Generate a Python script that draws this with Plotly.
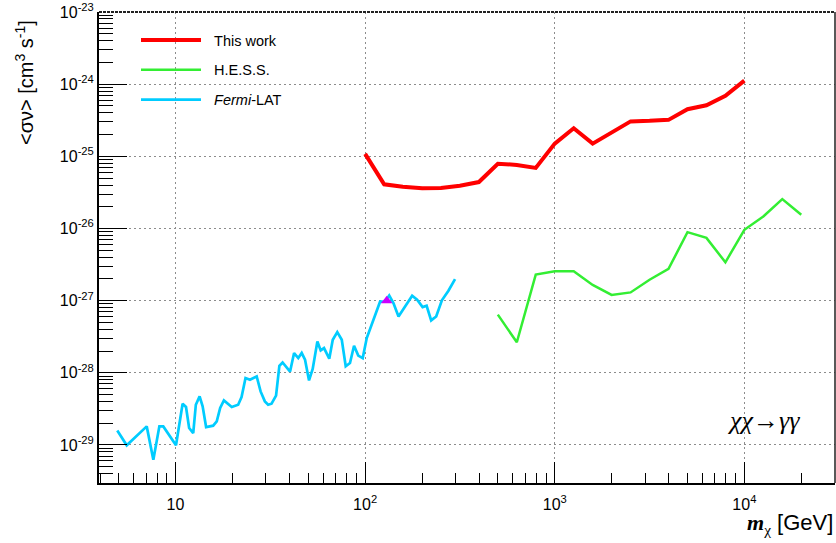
import plotly.graph_objects as go

# ---------------- data ----------------
fermi_mass = [4.93, 5.53, 7.05, 7.64, 8.22, 8.62, 10.06, 10.9, 11.36, 11.8,
              12.4, 12.8, 13.4, 13.9, 14.5, 15.8, 16.5, 17.2, 18.0, 19.8,
              21.4, 22.3, 23.4, 24.7, 26.8, 28.1, 29.6, 30.8, 32.1, 33.9,
              35.3, 36.7, 40.2, 42.2, 44.4, 46.3, 48.2, 50.6, 52.9, 56.0,
              58.3, 60.7, 64.7, 67.5, 71.3, 75.3, 79.0, 83.2, 87.4, 92.0,
              97.1, 102, 120, 127, 134, 141, 150, 177, 188, 201,
              211, 223, 237, 254, 275, 298]
fermi_sv = [1.59e-29, 9.9e-30, 1.81e-29, 6.25e-30, 1.81e-29, 1.81e-29, 9.9e-30, 3.73e-29, 3.36e-29, 1.72e-29,
            1.46e-29, 3.61e-29, 4.71e-29, 3.43e-29, 1.77e-29, 1.85e-29, 2.12e-29, 3.25e-29, 4.15e-29, 3.36e-29,
            3.61e-29, 4.62e-29, 8.48e-29, 8.02e-29, 8.91e-29, 5.52e-29, 4.02e-29, 3.61e-29, 3.73e-29, 4.82e-29,
            1.25e-28, 1.39e-28, 1.04e-28, 1.88e-28, 1.60e-28, 1.88e-28, 1.52e-28, 7.85e-29, 1.13e-28, 2.72e-28,
            2.04e-28, 2.20e-28, 1.57e-28, 2.87e-28, 3.67e-28, 2.87e-28, 1.23e-28, 1.37e-28, 2.37e-28, 1.73e-28,
            1.60e-28, 3.03e-28, 9.75e-28, 9.66e-28, 1.18e-27, 9.27e-28, 6.04e-28, 1.17e-27, 1.03e-27, 8.15e-28,
            8.49e-28, 5.32e-28, 6.04e-28, 1.01e-27, 1.37e-27, 1.99e-27]

hess_mass = [501, 631, 794, 1000, 1259, 1585, 1995, 2512, 3162, 3981,
             5012, 6310, 7943, 10000, 12589, 15849, 19953]
hess_sv = [6.4e-28, 2.65e-28, 2.3e-27, 2.55e-27, 2.55e-27, 1.65e-27, 1.2e-27, 1.3e-27, 1.95e-27, 2.75e-27,
           8.9e-27, 7.4e-27, 3.4e-27, 9.6e-27, 1.47e-26, 2.55e-26, 1.55e-26]

this_mass = [100, 126, 158, 200, 251, 316, 398, 501, 631, 794, 1000,
             1259, 1585, 1995, 2512, 3162, 3981, 5012, 6310, 7943, 10000]
this_sv = [1.08e-25, 4.1e-26, 3.8e-26, 3.6e-26, 3.65e-26, 3.9e-26, 4.4e-26, 7.9e-26, 7.6e-26, 6.9e-26, 1.5e-25,
           2.45e-25, 1.5e-25, 2.15e-25, 3.05e-25, 3.1e-25, 3.2e-25, 4.5e-25, 5.1e-25, 6.9e-25, 1.12e-24]

line_mass = [130]
line_sv = [1.0e-27]

x_tickvals = [10, 100, 1000, 10000]
x_ticktext = ["10", "10<sup>2</sup>", "10<sup>3</sup>", "10<sup>4</sup>"]
y_tickvals = [1e-29, 1e-28, 1e-27, 1e-26, 1e-25, 1e-24, 1e-23]
y_ticktext = ["10<sup>-29</sup>", "10<sup>-28</sup>", "10<sup>-27</sup>", "10<sup>-26</sup>",
              "10<sup>-25</sup>", "10<sup>-24</sup>", "10<sup>-23</sup>"]

x_minor = [d * 10 ** e for e in range(0, 5) for d in range(2, 10)]
y_minor = [d * 10.0 ** e for e in range(-30, -23) for d in range(2, 10)]

SANS = "Liberation Sans, Arial, sans-serif"
SERIF = "Liberation Serif, Times New Roman, serif"
NB = "\u00a0\u00a0"

fig = go.Figure()
fig.add_trace(go.Scatter(x=fermi_mass, y=fermi_sv, mode="lines", name=NB + "<i>Fermi</i>-LAT",
                         line=dict(color="#00ccff", width=2.7), legendrank=3, legendgroup="c"))
fig.add_trace(go.Scatter(x=line_mass, y=line_sv, mode="markers",
                         marker=dict(symbol="triangle-up", size=10, color="#cc00ff"),
                         showlegend=False, hoverinfo="skip", legendgroup="c", legendrank=3))
fig.add_trace(go.Scatter(x=hess_mass, y=hess_sv, mode="lines", name=NB + "H.E.S.S.",
                         line=dict(color="#33ee33", width=2.5), legendrank=2, legendgroup="b"))
fig.add_trace(go.Scatter(x=this_mass, y=this_sv, mode="lines", name=NB + "This work",
                         line=dict(color="#ff0000", width=4), legendrank=1, legendgroup="a"))

axis_common = dict(type="log", showline=True, linewidth=2, linecolor="black",
                   ticks="inside", tickcolor="black", tickwidth=1, automargin=False,
                   showgrid=True, gridcolor="#8c8c8c", gridwidth=1, griddash="2px,3px",
                   zeroline=False, tickfont=dict(family=SANS, size=16, color="black"))

fig.update_xaxes(**axis_common, range=[0.5965, 4.478], tickvals=x_tickvals, ticktext=x_ticktext,
                 ticklen=21, ticklabelstandoff=6,
                 minor=dict(tickvals=x_minor, ticks="inside", ticklen=10, tickcolor="black",
                            tickwidth=1, showgrid=False))
fig.update_yaxes(**axis_common, range=[-29.527, -23], tickvals=y_tickvals, ticktext=y_ticktext,
                 ticklen=28,
                 minor=dict(tickvals=y_minor, ticks="inside", ticklen=14, tickcolor="black",
                            tickwidth=1, showgrid=False))

W, H = 836, 543
L, R, T, B = 99, 1, 12, 60
pw, ph = W - L - R, H - T - B


def px(xp):
    return (xp - L) / pw


def py(yp):
    return 1 - (yp - T) / ph


fig.update_layout(
    width=W, height=H,
    margin=dict(l=L, r=R, t=T, b=B, autoexpand=False),
    plot_bgcolor="white", paper_bgcolor="white",
    font=dict(family=SANS, color="black"),
    legend=dict(x=px(136), y=py(24), xanchor="left", yanchor="top",
                bgcolor="rgba(0,0,0,0)", borderwidth=0,
                font=dict(family=SANS, size=14.5, color="black"),
                tracegroupgap=8, itemwidth=60),
    shapes=[
        dict(type="rect", xref="paper", yref="paper", x0=px(100), x1=px(345), y0=py(117), y1=py(13),
             fillcolor="white", line=dict(width=0), layer="between"),
        dict(type="line", xref="paper", yref="paper", x0=0, x1=1, y0=1, y1=1,
             line=dict(color="#222", width=2, dash="3px,1px"), layer="above"),
        dict(type="line", xref="paper", yref="paper", x0=1, x1=1, y0=0, y1=1,
             line=dict(color="#222", width=1.5), layer="above"),
    ],
    annotations=[
        dict(text="&lt;σν&gt; [cm<sup>3</sup> s<sup>-1</sup>]", xref="paper", yref="paper",
             x=px(25), y=py(83), textangle=-90, showarrow=False,
             xanchor="center", yanchor="middle", font=dict(family=SANS, size=20)),
        dict(text="<span style=\"font-family:Liberation Serif\"><b><i>m</i></b><sub>χ</sub></span> [GeV]",
             xref="paper", yref="paper", x=px(835), y=py(524), showarrow=False,
             xanchor="right", yanchor="middle", font=dict(family=SANS, size=22)),
        dict(text="<i>χχ</i>→<i>γγ</i>", xref="paper", yref="paper", x=px(763), y=py(420), showarrow=False,
             xanchor="center", yanchor="middle", font=dict(family=SERIF, size=26)),
    ],
)

fig.write_html("out.html", config={"displayModeBar": False},
               post_script="document.body.style.margin='0';document.body.style.padding='0';")
